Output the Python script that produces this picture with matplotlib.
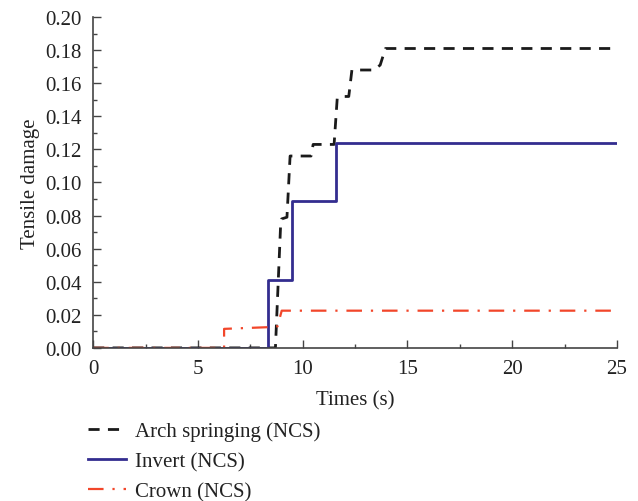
import numpy as np
import matplotlib
matplotlib.use("Agg")
import matplotlib.pyplot as plt
from matplotlib.ticker import MultipleLocator, FormatStrFormatter

plt.rcParams['font.family'] = ['Liberation Serif', 'DejaVu Serif']

# Arch springing (NCS)
arch_t = [0, 8.7, 8.95, 9.0, 9.25, 9.4, 10.4, 10.5, 11.5, 11.65, 11.95, 12.2, 12.35, 13.4, 13.7, 13.95, 25]
arch_d = [0, 0, 0.075, 0.078, 0.079, 0.116, 0.116, 0.123, 0.123, 0.151, 0.152, 0.152, 0.168, 0.168, 0.171, 0.181, 0.181]

# Invert (NCS)
invert_t = [0, 8.36, 8.36, 9.48, 9.48, 11.6, 11.6, 25]
invert_d = [0, 0, 0.041, 0.041, 0.089, 0.089, 0.124, 0.124]

# Crown (NCS)
crown_t = [0, 6.25, 6.25, 8.3, 8.8, 9.0, 25]
crown_d = [0, 0, 0.0115, 0.0125, 0.013, 0.0225, 0.0225]

fig = plt.figure(figsize=(6.38, 5.02), dpi=100)
ax = fig.add_axes([0.146, 0.305, 0.821, 0.659])

ax.plot(arch_t, arch_d, color='#1a1a1a', linestyle=(0, (4, 3)), linewidth=2, label='Arch springing (NCS)')
ax.plot(invert_t, invert_d, color='#332d8f', linestyle='-', linewidth=2, label='Invert (NCS)')
ax.plot(crown_t, crown_d, color='#f2462a', linestyle=(0, (7, 4, 1, 4)), linewidth=1.6, label='Crown (NCS)')

ax.set_xlim(0, 25)
ax.set_ylim(0, 0.20)
ax.xaxis.set_major_locator(MultipleLocator(5))
ax.xaxis.set_minor_locator(MultipleLocator(2.5))
ax.yaxis.set_major_locator(MultipleLocator(0.02))
ax.yaxis.set_minor_locator(MultipleLocator(0.01))
ax.yaxis.set_major_formatter(FormatStrFormatter('%.2f'))

ax.spines['top'].set_visible(False)
ax.spines['right'].set_visible(False)
for s in ['left', 'bottom']:
    ax.spines[s].set_color('#444444')
    ax.spines[s].set_linewidth(1.2)
ax.tick_params(which='major', direction='in', length=6, width=1, color='#444444', labelsize=15, labelcolor='#222222')
ax.tick_params(which='minor', direction='in', length=3, width=1, color='#444444')
ax.tick_params(axis='x', pad=8)
ax.tick_params(axis='y', pad=8)

ax.set_xlabel('Times (s)', fontsize=15, color='#222222', labelpad=9)
ax.set_ylabel('Tensile damage', fontsize=15, color='#222222', labelpad=4)

fig.legend(loc='upper left', bbox_to_anchor=(0.138, 0.158), frameon=False, fontsize=15,
           borderaxespad=0, borderpad=0,
           handlelength=1.8, labelspacing=0.5, handletextpad=0.45, labelcolor='#222222')

fig.savefig('out.png', dpi=100)
